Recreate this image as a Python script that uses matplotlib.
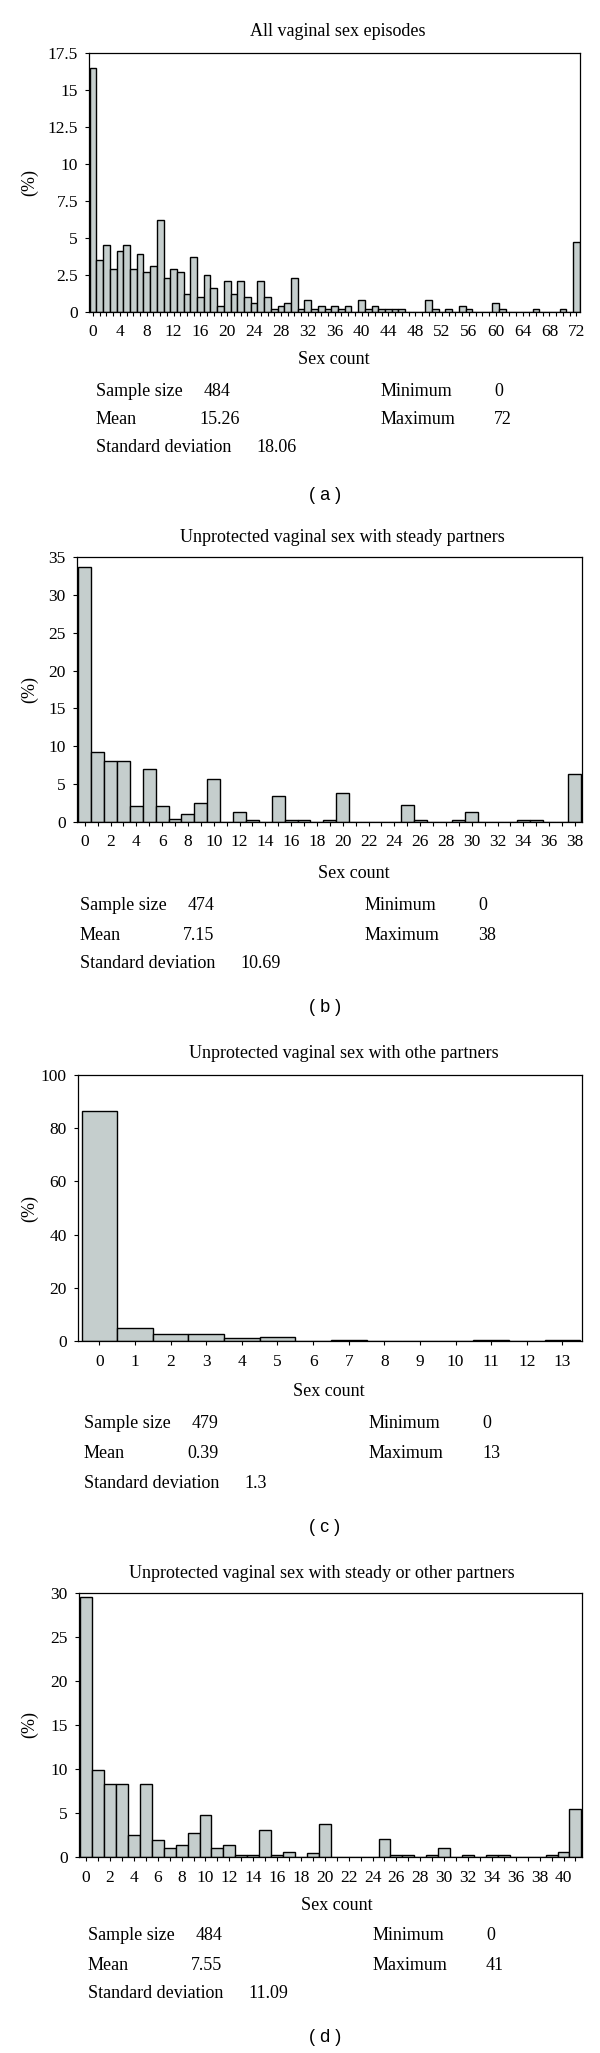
import matplotlib
matplotlib.use('Agg')
import matplotlib.pyplot as plt

W, H = 600, 2053

# --- data (percent of respondents per sex count) ---
a_pct = [16.5, 3.5, 4.5, 2.9, 4.1, 4.5, 2.9, 3.9, 2.7, 3.1,
         6.2, 2.3, 2.9, 2.7, 1.2, 3.7, 1.0, 2.5, 1.6, 0.4,
         2.1, 1.2, 2.1, 1.0, 0.6, 2.1, 1.0, 0.2, 0.4, 0.6,
         2.3, 0.2, 0.8, 0.2, 0.4, 0.2, 0.4, 0.2, 0.4, 0.0,
         0.8, 0.2, 0.4, 0.2, 0.2, 0.2, 0.2, 0.0, 0.0, 0.0,
         0.8, 0.2, 0.0, 0.2, 0.0, 0.4, 0.2, 0.0, 0.0, 0.0,
         0.6, 0.2, 0.0, 0.0, 0.0, 0.0, 0.2, 0.0, 0.0, 0.0,
         0.2, 0.0, 4.7]
b_pct = [33.7, 9.3, 8.0, 8.0, 2.1, 7.0, 2.1, 0.4, 1.1, 2.5,
         5.7, 0.0, 1.3, 0.2, 0.0, 3.4, 0.2, 0.2, 0.0, 0.2,
         3.8, 0.0, 0.0, 0.0, 0.0, 2.3, 0.2, 0.0, 0.0, 0.2,
         1.3, 0.0, 0.0, 0.0, 0.2, 0.2, 0.0, 0.0, 6.3]
c_pct = [86.3, 4.8, 2.5, 2.7, 1.0, 1.5, 0.0, 0.4, 0.0, 0.0,
         0.0, 0.2, 0.0, 0.2]
d_pct = [29.5, 9.9, 8.3, 8.3, 2.5, 8.3, 1.9, 1.0, 1.4, 2.7,
         4.8, 1.0, 1.4, 0.2, 0.2, 3.1, 0.2, 0.6, 0.0, 0.4,
         3.8, 0.0, 0.0, 0.0, 0.0, 2.1, 0.2, 0.2, 0.0, 0.2,
         1.0, 0.0, 0.2, 0.0, 0.2, 0.2, 0.0, 0.0, 0.0, 0.2,
         0.6, 5.4]

titles = ['All vaginal sex episodes',
          'Unprotected vaginal sex with steady partners',
          'Unprotected vaginal sex with othe partners',
          'Unprotected vaginal sex with steady or other partners']
panel_labels = ['( a )', '( b )', '( c )', '( d )']
sample_sizes = ['484', '474', '479', '484']
means = ['15.26', '7.15', '0.39', '7.55']
std_devs = ['18.06', '10.69', '1.3', '11.09']
minimums = ['0', '0', '0', '0']
maximums = ['72', '38', '13', '41']
y_max = [17.5, 35, 100, 30]
y_step = [2.5, 5, 20, 5]
x_label_step = [4, 2, 1, 2]

# --- layout in pixels of the reference ---
# axes box: left, right, top, bottom
boxes = [(89, 580, 53, 312), (77, 582, 557, 822),
         (78, 582, 1075, 1341), (79, 582, 1593, 1857)]
title_pos = [(338, 31), (342, 538), (344, 1053), (322, 1573)]
xlabel_pos = [(334, 359), (354, 873), (329, 1391), (337, 1905)]
info_x = [96, 80, 84, 88]
info_y = [(391, 420, 448), (906, 935, 963), (1424, 1454, 1483), (1936, 1965, 1993)]
label_y = [495, 1008, 1528, 2037]

SERIF = ['Liberation Serif', 'DejaVu Serif']
SANS = ['Liberation Sans', 'DejaVu Sans']
BAR = '#c5cecd'


def fx(px):
    return px / W


def fy(py):
    return 1 - py / H


fig = plt.figure(figsize=(W / 100, H / 100), dpi=100)

for i, pct in enumerate([a_pct, b_pct, c_pct, d_pct]):
    l, r, t, b = boxes[i]
    ax = fig.add_axes([fx(l), fy(b), fx(r) - fx(l), fy(t) - fy(b)])
    x = list(range(len(pct)))
    ax.bar(x, pct, width=1.0, color=BAR, edgecolor='black', linewidth=1.0)
    ax.set_xlim(-0.6, len(pct) - 0.45)
    ax.set_ylim(0, y_max[i])

    ax.set_xticks(x)
    ax.set_xticklabels([str(v) if v % x_label_step[i] == 0 else '' for v in x],
                       family=SERIF, fontsize=12.5)
    n = int(round(y_max[i] / y_step[i]))
    yt = [k * y_step[i] for k in range(n + 1)]
    ax.set_yticks(yt)
    ax.set_yticklabels(['%g' % v for v in yt], family=SERIF, fontsize=12.5)
    ax.tick_params(axis='x', direction='out', length=3, width=0.8, pad=6)
    ax.tick_params(axis='y', direction='out', length=3, width=0.8, pad=5)
    for s in ax.spines.values():
        s.set_linewidth(0.9)

    fig.text(fx(title_pos[i][0]), fy(title_pos[i][1]), titles[i],
             ha='center', va='center', family=SERIF, fontsize=13)
    fig.text(fx(xlabel_pos[i][0]), fy(xlabel_pos[i][1]), 'Sex count',
             ha='center', va='center', family=SERIF, fontsize=13)
    fig.text(fx(30), fy((t + b) / 2), '(%)', rotation=90,
             ha='center', va='center', family=SERIF, fontsize=13)

    x0 = info_x[i]
    r1, r2, r3 = info_y[i]
    info = [(x0, r1, 'Sample size'), (x0 + 108, r1, sample_sizes[i]),
            (x0, r2, 'Mean'), (x0 + 103, r2, means[i]),
            (x0, r3, 'Standard deviation'), (x0 + 160, r3, std_devs[i]),
            (x0 + 285, r1, 'Minimum'), (x0 + 398, r1, minimums[i]),
            (x0 + 285, r2, 'Maximum'), (x0 + 398, r2, maximums[i])]
    for px, py, s in info:
        fig.text(fx(px), fy(py), s, ha='left', va='center',
                 family=SERIF, fontsize=13)

    fig.text(fx(325), fy(label_y[i]), panel_labels[i], ha='center', va='center',
             family=SANS, fontsize=13)

fig.savefig('out.png', dpi=100)
